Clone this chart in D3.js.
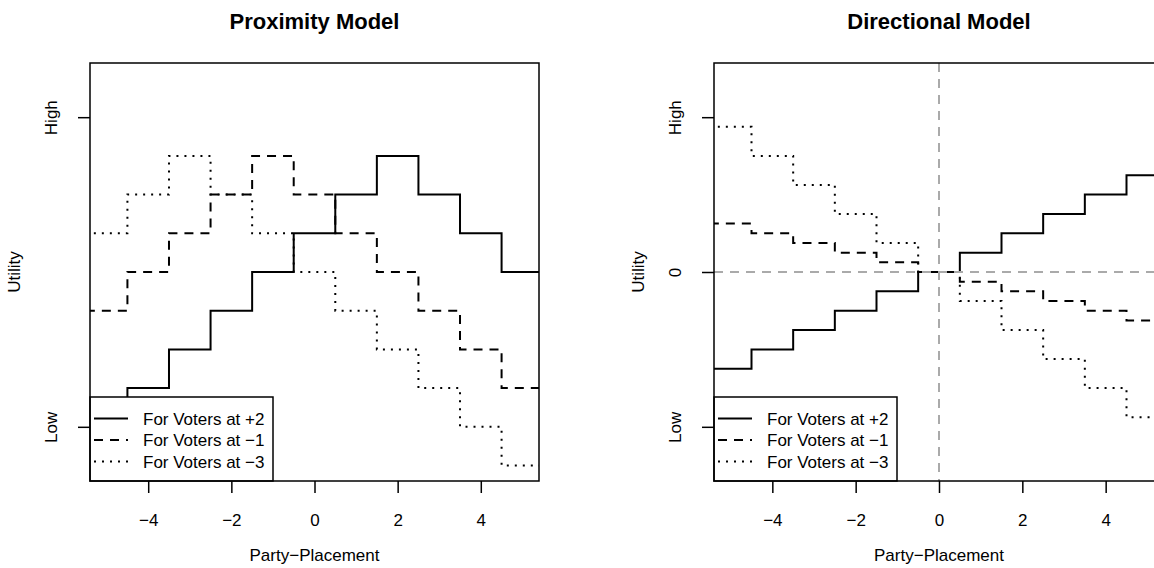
<!DOCTYPE html>
<html>
<head>
<meta charset="utf-8">
<script src="https://cdn.jsdelivr.net/npm/d3@7"></script>
<style>
  html, body { margin: 0; padding: 0; background: #fff; }
  svg { display: block; font-family: "Liberation Sans", Arial, Helvetica, sans-serif; }
</style>
</head>
<body>
<svg id="chart" width="1154" height="568"></svg>
<script>
// ---- data ----
const positions = [-5, -4, -3, -2, -1, 0, 1, 2, 3, 4, 5];
const seriesNames = ["For Voters at +2", "For Voters at \u22121", "For Voters at \u22123"];
const proxVoterPlus2  = [-7, -6, -5, -4, -3, -2, -1, 0, -1, -2, -3];
const proxVoterMinus1 = [-4, -3, -2, -1, 0, -1, -2, -3, -4, -5, -6];
const proxVoterMinus3 = [-2, -1, 0, -1, -2, -3, -4, -5, -6, -7, -8];
const dirVoterPlus2  = [-10, -8, -6, -4, -2, 0, 2, 4, 6, 8, 10];
const dirVoterMinus1 = [5, 4, 3, 2, 1, 0, -1, -2, -3, -4, -5];
const dirVoterMinus3 = [15, 12, 9, 6, 3, 0, -3, -6, -9, -12, -15];
const xTicks = [-4, -2, 0, 2, 4];
const proxYLim = [-8, 2];
const proxYTicks = [1, -7];
const proxYTickLabels = ["High", "Low"];
const dirYLim = [-20, 20];
const dirYTicks = [16, 0, -16];
const dirYTickLabels = ["High", "0", "Low"];
const xLim = [-5, 5];
const titles = ["Proximity Model", "Directional Model"];

// ---- drawing ----
const svg = d3.select("#chart");
const dashStyles = [null, "9,7", "2,6"];
const FONT = 17;

function ext(lim) { const r = lim[1] - lim[0]; return [lim[0] - 0.04 * r, lim[1] + 0.04 * r]; }

function panel(opt) {
  const { left, top, width, height, title, series, yLim, yTicks, yTickLabels, refLines, id } = opt;
  const g = svg.append("g").attr("transform", `translate(${left},${top})`);
  const x = d3.scaleLinear().domain(ext(xLim)).range([0, width]);
  const y = d3.scaleLinear().domain(ext(yLim)).range([height, 0]);

  g.append("clipPath").attr("id", "clip" + id).append("rect")
    .attr("x", 0).attr("y", 0).attr("width", width).attr("height", height);
  const plot = g.append("g").attr("clip-path", `url(#clip${id})`);

  const line = d3.line().x(d => x(d[0])).y(d => y(d[1])).curve(d3.curveStep);
  series.forEach((vals, i) => {
    const pts = positions.map((p, k) => [p, vals[k]]);
    pts.unshift([positions[0] - 0.5, vals[0]]);
    pts.push([positions[positions.length - 1] + 0.5, vals[vals.length - 1]]);
    plot.append("path").datum(pts)
      .attr("d", line)
      .attr("fill", "none")
      .attr("stroke", "#000")
      .attr("stroke-width", 2)
      .attr("stroke-dasharray", dashStyles[i]);
  });

  if (refLines) {
    plot.append("line").attr("x1", 0).attr("x2", width).attr("y1", y(0)).attr("y2", y(0))
      .attr("stroke", "#aaaaaa").attr("stroke-width", 2).attr("stroke-dasharray", "9,7");
    plot.append("line").attr("x1", x(0)).attr("x2", x(0)).attr("y1", 0).attr("y2", height)
      .attr("stroke", "#aaaaaa").attr("stroke-width", 2).attr("stroke-dasharray", "9,7");
  }

  // legend
  const lg = g.append("g").attr("transform", `translate(0,${height - 84})`);
  lg.append("rect").attr("x", 0).attr("y", 0).attr("width", 183).attr("height", 84)
    .attr("fill", "#fff").attr("stroke", "#000").attr("stroke-width", 1.5);
  seriesNames.forEach((name, i) => {
    const ry = 21.5 + i * 21.5;
    lg.append("line").attr("x1", 4).attr("x2", 38).attr("y1", ry).attr("y2", ry)
      .attr("stroke", "#000").attr("stroke-width", 2).attr("stroke-dasharray", dashStyles[i]);
    lg.append("text").attr("x", 53).attr("y", ry + 6).attr("font-size", FONT).text(name);
  });

  // box
  g.append("rect").attr("x", 0).attr("y", 0).attr("width", width).attr("height", height)
    .attr("fill", "none").attr("stroke", "#000").attr("stroke-width", 1.5);

  // x axis
  const xa = g.append("g").attr("transform", `translate(0,${height})`)
    .call(d3.axisBottom(x).tickValues(xTicks).tickSize(12).tickSizeOuter(0).tickPadding(22));
  xa.select(".domain").remove();
  xa.selectAll("line").attr("stroke", "#000").attr("stroke-width", 1.5);
  xa.selectAll("text").attr("font-size", FONT).attr("font-family", null).attr("fill", "#000").attr("dy", null)
    .attr("y", 45);

  // y axis
  const ya = g.append("g")
    .call(d3.axisLeft(y).tickValues(yTicks).tickFormat((d, i) => yTickLabels[i]).tickSize(12).tickSizeOuter(0));
  ya.select(".domain").remove();
  ya.selectAll("line").attr("stroke", "#000").attr("stroke-width", 1.5);
  ya.selectAll("text").attr("font-size", FONT).attr("font-family", null).attr("fill", "#000")
    .attr("transform", "rotate(-90)").attr("x", 0).attr("y", -33).attr("dy", null)
    .attr("text-anchor", "middle");

  // titles and labels
  g.append("text").attr("x", width / 2).attr("y", -34).attr("text-anchor", "middle")
    .attr("font-size", 22).attr("font-weight", "bold").text(title);
  g.append("text").attr("x", width / 2).attr("y", height + 80).attr("text-anchor", "middle")
    .attr("font-size", FONT).text("Party\u2212Placement");
  g.append("text").attr("transform", `translate(-70,${height / 2}) rotate(-90)`)
    .attr("text-anchor", "middle").attr("font-size", FONT).text("Utility");
}

panel({ id: 1, left: 90, top: 63, width: 449, height: 418, title: titles[0],
  series: [proxVoterPlus2, proxVoterMinus1, proxVoterMinus3],
  yLim: proxYLim, yTicks: proxYTicks, yTickLabels: proxYTickLabels, refLines: false });
panel({ id: 2, left: 714, top: 63, width: 450, height: 418, title: titles[1],
  series: [dirVoterPlus2, dirVoterMinus1, dirVoterMinus3],
  yLim: dirYLim, yTicks: dirYTicks, yTickLabels: dirYTickLabels, refLines: true });
</script>
</body>
</html>
